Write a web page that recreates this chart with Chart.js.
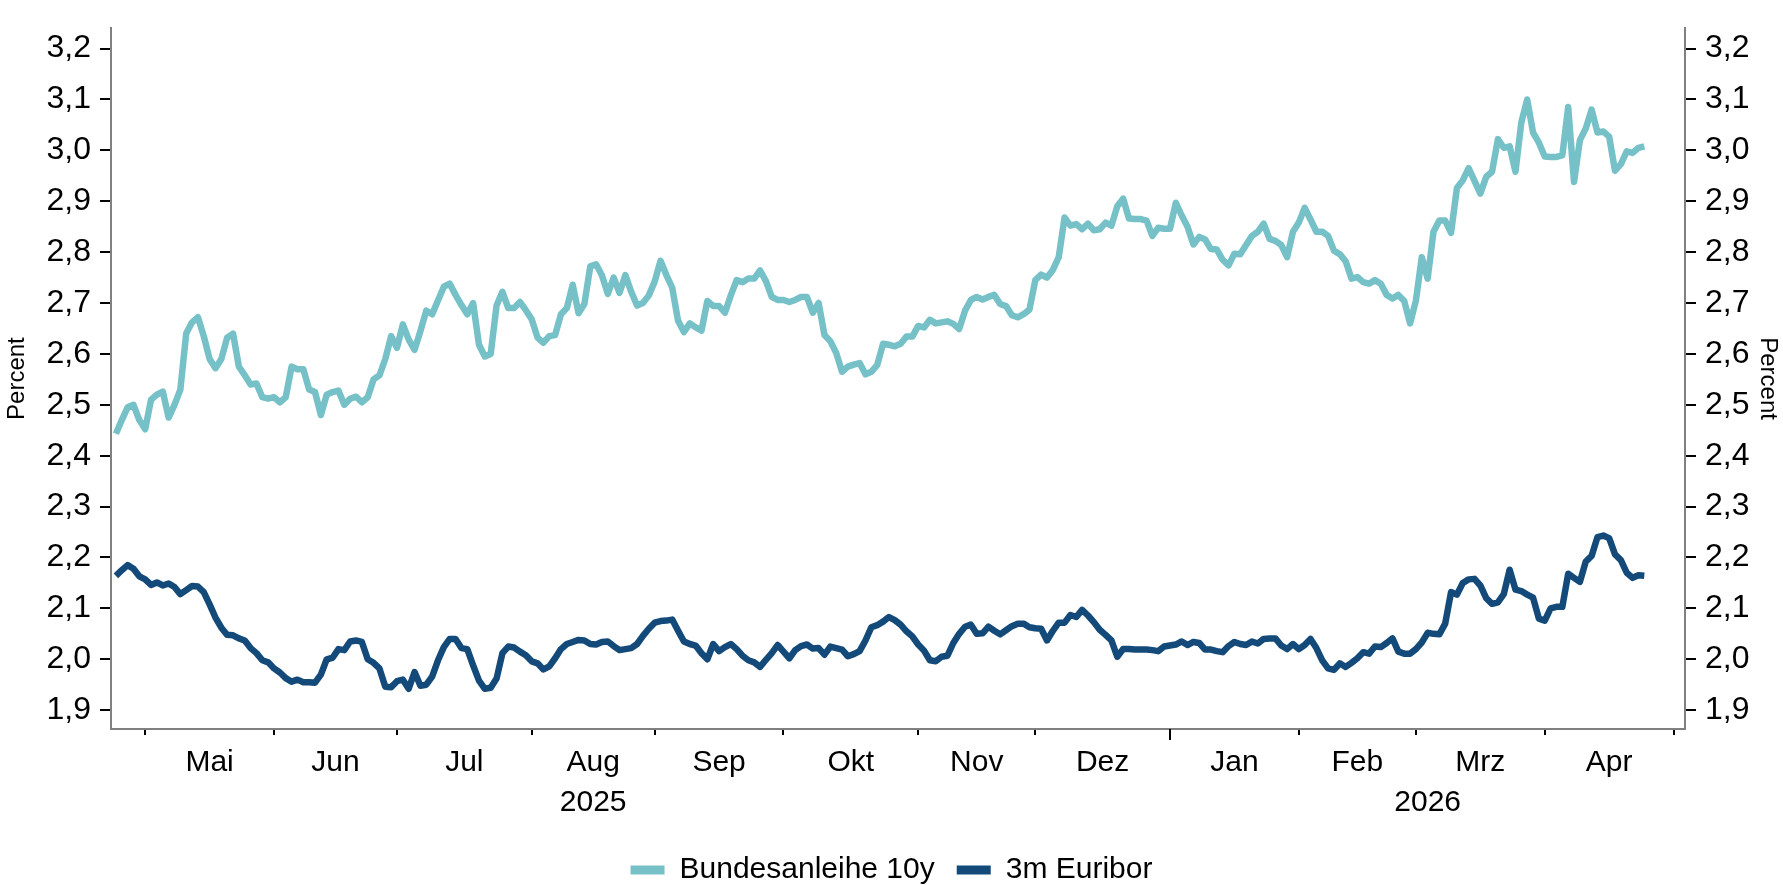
<!DOCTYPE html>
<html lang="de">
<head>
<meta charset="utf-8">
<title>Bundesanleihe 10y und 3m Euribor</title>
<script src="https://cdn.jsdelivr.net/npm/chart.js@4.4.1/dist/chart.umd.min.js"></script>
<style>
  html, body { margin: 0; padding: 0; background: #fff; }
  #wrap { width: 1783px; height: 885px; position: relative; }
</style>
</head>
<body>
<div id="wrap"><canvas id="rateChart"></canvas></div>
<script>
// Daily values, one per business day, starting Thu 24 Apr 2025
const bund10y = [
  2.443, 2.47, 2.495, 2.50, 2.47, 2.452, 2.51, 2.52, 2.526, 2.475,
  2.50, 2.53, 2.64, 2.662, 2.672, 2.635, 2.59, 2.572, 2.59, 2.632,
  2.64, 2.575, 2.558, 2.54, 2.542, 2.515, 2.512, 2.515, 2.505, 2.515,
  2.575, 2.57, 2.57, 2.53, 2.525, 2.48, 2.52, 2.525, 2.528, 2.50,
  2.512, 2.516, 2.505, 2.515, 2.55, 2.558, 2.59, 2.635, 2.612, 2.658,
  2.628, 2.608, 2.645, 2.685, 2.678, 2.705, 2.732, 2.738, 2.716, 2.696,
  2.678, 2.70, 2.618, 2.595, 2.60, 2.695, 2.722, 2.69, 2.69, 2.702,
  2.686, 2.668, 2.632, 2.622, 2.635, 2.637, 2.678, 2.69, 2.736, 2.68,
  2.698, 2.772, 2.776, 2.754, 2.718, 2.75, 2.72, 2.755, 2.722, 2.695,
  2.70, 2.715, 2.742, 2.783, 2.755, 2.73, 2.665, 2.643, 2.66, 2.652,
  2.646, 2.704, 2.694, 2.694, 2.681, 2.715, 2.745, 2.741, 2.748, 2.748,
  2.764, 2.743, 2.712, 2.706, 2.706, 2.702, 2.706, 2.712, 2.712, 2.681,
  2.70, 2.637, 2.625, 2.602, 2.565, 2.575, 2.579, 2.582, 2.56, 2.565,
  2.578, 2.62, 2.618, 2.615, 2.62, 2.634, 2.634, 2.655, 2.652, 2.667,
  2.66, 2.662, 2.664, 2.659, 2.649, 2.685, 2.706, 2.712, 2.707, 2.712,
  2.716, 2.698, 2.694, 2.676, 2.672, 2.678, 2.687, 2.745, 2.756, 2.75,
  2.765, 2.79, 2.868, 2.852, 2.855, 2.845, 2.856, 2.843, 2.845, 2.858,
  2.852, 2.89, 2.905, 2.866, 2.865, 2.865, 2.862, 2.832, 2.848, 2.846,
  2.846, 2.897, 2.872, 2.85, 2.815, 2.83, 2.825, 2.806, 2.805, 2.785,
  2.774, 2.797, 2.796, 2.814, 2.832, 2.84, 2.856, 2.826, 2.822, 2.814,
  2.79, 2.84, 2.858, 2.887, 2.864, 2.84, 2.84, 2.832, 2.803, 2.796,
  2.782, 2.748, 2.751, 2.741, 2.738, 2.745, 2.738, 2.716, 2.709, 2.716,
  2.704, 2.66, 2.705, 2.79, 2.748, 2.84, 2.862, 2.862, 2.838, 2.926,
  2.941, 2.965, 2.94, 2.915, 2.948, 2.958, 3.022, 3.005, 3.008, 2.958,
  3.055, 3.10, 3.035, 3.015, 2.988, 2.987, 2.987, 2.99, 3.085, 2.938,
  3.02, 3.043, 3.08, 3.035, 3.037, 3.027, 2.96, 2.973, 2.998, 2.995,
  3.005, 3.008
];

const euribor3m = [
  2.164, 2.175, 2.185, 2.178, 2.163, 2.157, 2.146, 2.151, 2.145, 2.149,
  2.142, 2.128, 2.136, 2.144, 2.143, 2.132, 2.108, 2.082, 2.062, 2.048,
  2.047, 2.041, 2.037, 2.022, 2.012, 1.998, 1.994, 1.982, 1.974, 1.963,
  1.956, 1.960, 1.955, 1.955, 1.954, 1.97, 2.0, 2.003, 2.02, 2.018,
  2.035, 2.037, 2.034, 2.0, 1.993, 1.982, 1.946, 1.945, 1.957, 1.960,
  1.942, 1.975, 1.948, 1.950, 1.966, 1.998, 2.024, 2.040, 2.040, 2.022,
  2.020, 1.988, 1.958, 1.942, 1.944, 1.962, 2.012, 2.025, 2.023, 2.015,
  2.008, 1.996, 1.992, 1.980, 1.986, 2.002, 2.02, 2.030, 2.034, 2.038,
  2.037, 2.03, 2.029, 2.034, 2.035, 2.026, 2.018, 2.02, 2.022, 2.03,
  2.046, 2.06, 2.072, 2.075, 2.076, 2.078, 2.056, 2.035, 2.03, 2.027,
  2.012, 2.0, 2.03, 2.016, 2.024, 2.03, 2.02, 2.007, 1.998, 1.994,
  1.985, 1.999, 2.012, 2.028, 2.015, 2.002, 2.018, 2.026, 2.029, 2.021,
  2.022, 2.009, 2.025, 2.022, 2.019, 2.006, 2.01, 2.016, 2.037, 2.063,
  2.067, 2.074, 2.083, 2.077, 2.068, 2.055, 2.045, 2.029, 2.017, 1.998,
  1.996, 2.005, 2.007, 2.032, 2.05, 2.064, 2.068, 2.05, 2.051, 2.064,
  2.056, 2.049, 2.057, 2.065, 2.07, 2.07, 2.063, 2.061, 2.06, 2.037,
  2.056, 2.072, 2.072, 2.087, 2.083, 2.097, 2.086, 2.073, 2.058, 2.048,
  2.037, 2.005, 2.02, 2.02, 2.019, 2.019, 2.019, 2.018, 2.016, 2.025,
  2.027, 2.029, 2.035, 2.028, 2.034, 2.032, 2.019, 2.019, 2.016, 2.014,
  2.026, 2.034, 2.03, 2.028, 2.035, 2.031, 2.04, 2.041, 2.041, 2.027,
  2.02, 2.03, 2.02, 2.028, 2.04, 2.022, 1.998, 1.982, 1.979, 1.992,
  1.985, 1.993, 2.002, 2.014, 2.011, 2.025, 2.024, 2.032, 2.041, 2.015,
  2.011, 2.011, 2.02, 2.033, 2.052, 2.05, 2.049, 2.07, 2.132, 2.127,
  2.15, 2.157, 2.158, 2.145, 2.12, 2.109, 2.112, 2.128, 2.176, 2.137,
  2.134, 2.127, 2.121, 2.08, 2.076, 2.1, 2.103, 2.103, 2.168, 2.16,
  2.152, 2.192, 2.203, 2.24, 2.243, 2.238, 2.206, 2.195, 2.17, 2.16,
  2.165, 2.164
];

const seriesNames = ['Bundesanleihe 10y', '3m Euribor'];
const monthNames = ['Jan', 'Feb', 'Mrz', 'Apr', 'Mai', 'Jun', 'Jul', 'Aug', 'Sep', 'Okt', 'Nov', 'Dez'];
const yTicks = [1.9, 2.0, 2.1, 2.2, 2.3, 2.4, 2.5, 2.6, 2.7, 2.8, 2.9, 3.0, 3.1, 3.2];

const FONT = "'Liberation Sans', Arial, sans-serif";
const TEAL = '#76c1c7';
const NAVY = '#134a79';
const AXIS_GREY = '#808080';

// Business-day calendar behind the x axis (index 0 = 24 Apr 2025)
const businessDays = [];
for (let d = new Date(2025, 3, 24); businessDays.length < 270; d.setDate(d.getDate() + 1)) {
    const wd = d.getDay();
    if (wd !== 0 && wd !== 6) businessDays.push(new Date(d));
}

// first business day of every month
const monthStarts = [];
businessDays.forEach((day, i) => {
    if (i > 0 && day.getMonth() !== businessDays[i - 1].getMonth()) monthStarts.push(i);
});
const yearStarts = monthStarts.filter(i => businessDays[i].getMonth() === 0);

// year captions sit under the month axis
const yearCaptions = { 2025: 81.5, 2026: 224 };

// month names centred between month boundaries, plus year captions
function buildMonthLabelTicks() {
    const ticks = [];
    for (let k = 0; k < monthStarts.length - 1; k++) {
        const mid = (monthStarts[k] + monthStarts[k + 1]) / 2;
        ticks.push({ value: mid, text: [monthNames[businessDays[monthStarts[k]].getMonth()]] });
    }
    Object.keys(yearCaptions).forEach(year => {
        const at = yearCaptions[year];
        const same = ticks.find(t => t.value === at);
        if (same) same.text = [same.text[0], year];
        else ticks.push({ value: at, text: ['', year] });
    });
    return ticks.sort((a, b) => a.value - b.value);
}

const toPoints = values => values.map((v, i) => ({ x: i, y: v }));
const fmtComma = v => v.toFixed(1).replace('.', ',');

// longer tick mark at the turn of the year
const yearTickPlugin = {
    id: 'yearTick',
    afterDraw(chart) {
        const xs = chart.scales.x;
        const ctx = chart.ctx;
        ctx.save();
        ctx.strokeStyle = '#000';
        ctx.lineWidth = 2;
        yearStarts.forEach(i => {
            const px = xs.getPixelForValue(i);
            ctx.beginPath();
            ctx.moveTo(px, xs.top);
            ctx.lineTo(px, xs.top + 11);
            ctx.stroke();
        });
        ctx.restore();
    }
};

function yAxis(position, width, titlePad) {
    return {
        type: 'linear',
        position: position,
        min: 1.863,
        max: 3.24,
        afterBuildTicks: scale => { scale.ticks = yTicks.map(v => ({ value: v })); },
        afterFit: scale => { scale.width = width; },
        ticks: {
            color: '#000',
            padding: 9,
            font: { family: FONT, size: 32 },
            callback: v => fmtComma(v)
        },
        grid: { drawOnChartArea: false, drawTicks: true, tickLength: 11, color: '#000', lineWidth: 2 },
        border: { display: true, color: AXIS_GREY, width: 2 },
        title: {
            display: true,
            text: 'Percent',
            color: '#000',
            font: { family: FONT, size: 24, lineHeight: 1.2 },
            padding: { top: titlePad, bottom: 0 }
        }
    };
}

document.addEventListener('DOMContentLoaded', function() {
    Chart.defaults.font.family = FONT;
    const ctx = document.getElementById('rateChart').getContext('2d');

    new Chart(ctx, {
        type: 'line',
        data: {
            datasets: [{
                label: seriesNames[0],
                data: toPoints(bund10y),
                borderColor: TEAL,
                backgroundColor: TEAL,
                borderWidth: 6.5,
                pointRadius: 0,
                tension: 0,
                borderJoinStyle: 'round',
                yAxisID: 'y'
            }, {
                label: seriesNames[1],
                data: toPoints(euribor3m),
                borderColor: NAVY,
                backgroundColor: NAVY,
                borderWidth: 6.5,
                pointRadius: 0,
                tension: 0,
                borderJoinStyle: 'round',
                yAxisID: 'y'
            }]
        },
        options: {
            responsive: true,
            maintainAspectRatio: false,
            animation: false,
            layout: { padding: { top: 7, left: 0, right: 0, bottom: 0 } },
            plugins: {
                tooltip: { enabled: false },
                legend: {
                    position: 'bottom',
                    maxHeight: 52,
                    labels: {
                        boxWidth: 34,
                        boxHeight: 9,
                        padding: 22,
                        color: '#000',
                        font: { family: FONT, size: 30 },
                        generateLabels: chart => chart.data.datasets.map((ds, i) => ({
                            text: ds.label,
                            fillStyle: ds.borderColor,
                            strokeStyle: ds.borderColor,
                            lineWidth: 0,
                            hidden: false,
                            datasetIndex: i,
                            fontColor: '#000'
                        }))
                    }
                }
            },
            scales: {
                // month boundaries: tick marks only
                x: {
                    type: 'linear',
                    position: 'bottom',
                    weight: 0,
                    min: -0.84,
                    max: 267.95,
                    afterBuildTicks: scale => { scale.ticks = monthStarts.map(v => ({ value: v })); },
                    afterFit: scale => { scale.height = 6; },
                    ticks: { display: false },
                    grid: { drawOnChartArea: false, drawTicks: true, tickLength: 6, color: '#000', lineWidth: 2 },
                    border: { display: true, color: AXIS_GREY, width: 2 }
                },
                // month and year captions
                xm: {
                    type: 'linear',
                    position: 'bottom',
                    weight: 1,
                    min: -0.84,
                    max: 267.95,
                    afterBuildTicks: scale => { scale.ticks = buildMonthLabelTicks(); },
                    afterFit: scale => { scale.height = 98; },
                    ticks: {
                        autoSkip: false,
                        maxRotation: 0,
                        padding: 8,
                        color: '#000',
                        font: { family: FONT, size: 30, lineHeight: 1.333 },
                        callback: (value, index, ticks) => ticks[index].text
                    },
                    grid: { display: false, drawTicks: false },
                    border: { display: false }
                },
                y: yAxis('left', 111, 3),
                y2: yAxis('right', 98, 1)
            }
        },
        plugins: [yearTickPlugin]
    });
});
</script>
</body>
</html>
